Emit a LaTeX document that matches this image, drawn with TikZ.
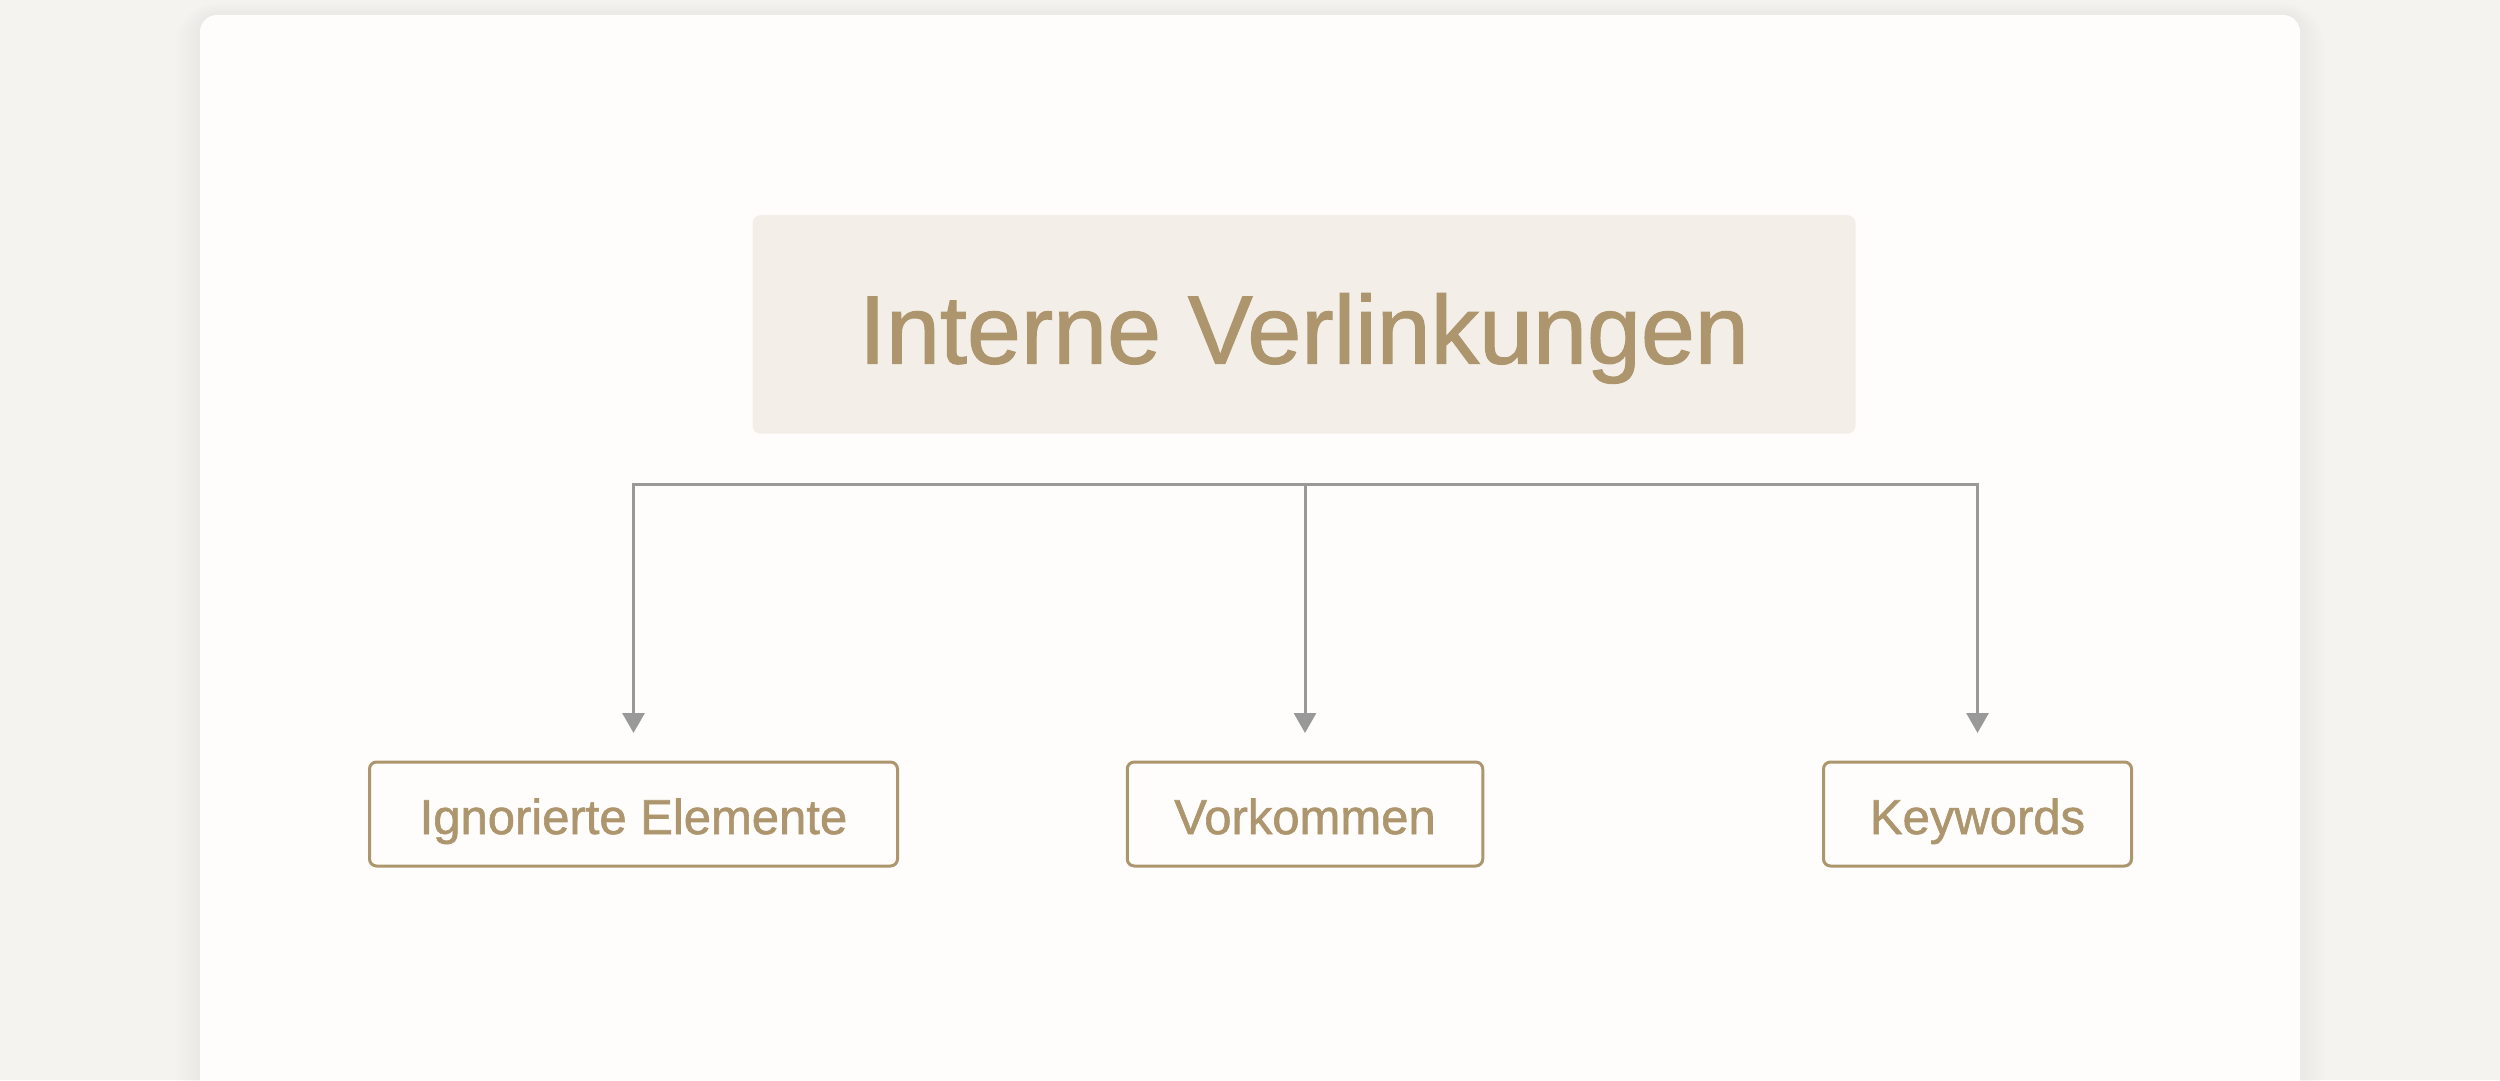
\documentclass[tikz,border=0pt]{standalone}
\usepackage{fontspec}
\setmainfont{Liberation Sans}
\newfontfamily\labelfont[FakeBold=1.2]{Liberation Sans}
\usetikzlibrary{arrows.meta}
\definecolor{bgcol}{HTML}{F4F3F0}
\definecolor{cardcol}{HTML}{FEFDFB}
\definecolor{titlefill}{HTML}{F3EFE8}
\definecolor{gold}{HTML}{AD966E}
\definecolor{linecol}{HTML}{999999}
\tikzset{
  titlebox/.style={rectangle, rounded corners=8pt, fill=titlefill, draw=none,
    minimum width=1103pt, minimum height=218.5pt, inner sep=0pt,
    text=gold, font=\labelfont\fontsize{97}{100}\selectfont, text height=78pt, text depth=0pt},
  childbox/.style={rectangle, rounded corners=7pt, fill=cardcol, draw=gold, line width=3pt,
    minimum height=104pt, inner sep=0pt,
    text=gold, font=\labelfont\fontsize{49}{52}\selectfont, text height=40pt, text depth=0pt},
  conn/.style={draw=linecol, line width=3pt},
  gtip/.tip={Triangle[width=22pt, length=20pt]}
}
\begin{document}
\begin{tikzpicture}[x=1pt, y=1pt]
\useasboundingbox (0,0) rectangle (2500,1080);
\clip (0,0) rectangle (2500,1080);
\fill[bgcol] (0,0) rectangle (2500,1080);
% card shadow
\foreach \i in {1,...,10}{
  \fill[black, opacity=0.005, rounded corners={17pt+\i*2.5pt}] ({200-\i*2.5},-100) rectangle ({2300+\i*2.5},{1065+\i*1.2});
}
\fill[cardcol, rounded corners=17pt] (200,-100) rectangle (2300,1065);
% nodes
\node[titlebox] (title) at (1304,755.5) {Interne Verlinkungen};
\node[childbox, minimum width=528pt] (c1) at (633.5,266) {Ignorierte Elemente};
\node[childbox, minimum width=355.5pt] (c2) at (1305,266) {Vorkommen};
\node[childbox, minimum width=308pt] (c3) at (1977.5,266) {Keywords};
\coordinate (bus) at (1305,595);
% connectors
\draw[conn, gtip-gtip, shorten <=27.5pt, shorten >=27.5pt] (c1.north) |- (bus) -| (c3.north);
\draw[conn, -gtip, shorten >=27.5pt] (bus) -- (c2.north);
\end{tikzpicture}
\end{document}
